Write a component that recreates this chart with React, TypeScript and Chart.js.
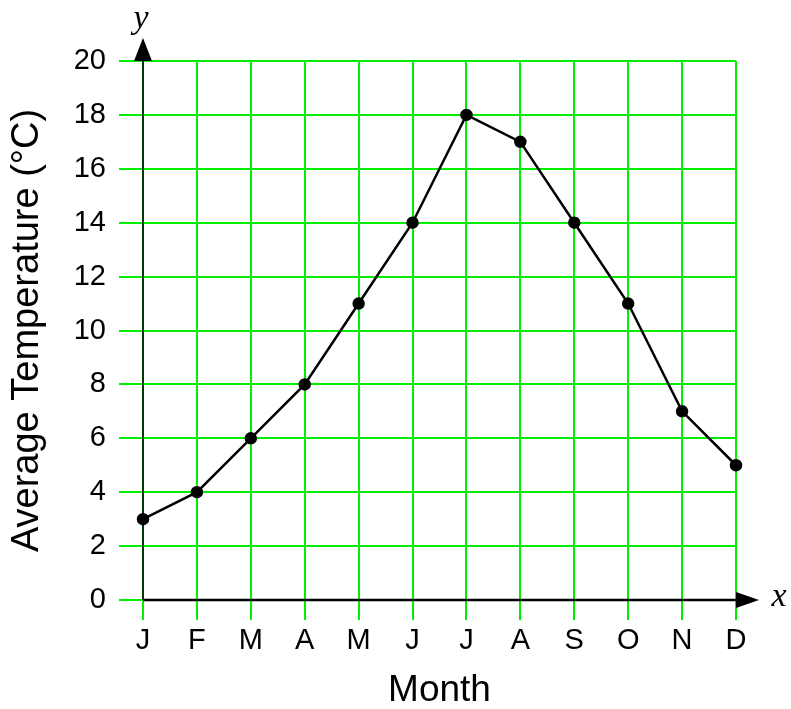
import React, { useEffect, useRef } from "react";
import { Chart, registerables } from "chart.js";

Chart.register(...registerables);

const months = ["J", "F", "M", "A", "M", "J", "J", "A", "S", "O", "N", "D"];
const temps = [3, 4, 6, 8, 11, 14, 18, 17, 14, 11, 7, 5];
const yMin = 0;
const yMax = 20;
const yStep = 2;
const xTitle = "Month";
const yTitle = "Average Temperature (°C)";

const GREEN = "rgb(0,240,0)";
const SANS = "'Liberation Sans', Arial, sans-serif";

const axesPlugin = {
  id: "axesArrows",
  beforeDatasetsDraw(chart: any) {
    const { ctx, chartArea } = chart;
    const { left, right, top, bottom } = chartArea;
    ctx.save();
    ctx.strokeStyle = "#000";
    ctx.lineWidth = 1.5;
    ctx.beginPath();
    ctx.moveTo(left, bottom);
    ctx.lineTo(left, top);
    ctx.stroke();
    ctx.lineWidth = 2.5;
    ctx.beginPath();
    ctx.moveTo(left, bottom);
    ctx.lineTo(right, bottom);
    ctx.stroke();
    ctx.restore();
  },
  afterDraw(chart: any) {
    const { ctx, chartArea } = chart;
    const { left, right, top, bottom } = chartArea;
    ctx.save();
    ctx.fillStyle = "#000";
    ctx.beginPath();
    ctx.moveTo(left - 9, top);
    ctx.lineTo(left + 9, top);
    ctx.lineTo(left, top - 23);
    ctx.closePath();
    ctx.fill();
    ctx.beginPath();
    ctx.moveTo(right, bottom - 8);
    ctx.lineTo(right, bottom + 8);
    ctx.lineTo(right + 23, bottom);
    ctx.closePath();
    ctx.fill();
    ctx.font = "italic 34px 'Liberation Serif', 'Times New Roman', serif";
    ctx.textAlign = "center";
    ctx.textBaseline = "alphabetic";
    ctx.fillText("y", left - 2, top - 33);
    ctx.fillText("x", right + 43, bottom + 6);
    ctx.restore();
  },
};

export default function App() {
  const ref = useRef<HTMLCanvasElement | null>(null);
  useEffect(() => {
    if (!ref.current) return;
    const chart = new Chart(ref.current, {
      type: "line",
      data: {
        labels: months,
        datasets: [
          {
            data: temps,
            borderColor: "#000",
            backgroundColor: "#000",
            borderWidth: 2.5,
            pointRadius: 5,
            pointBackgroundColor: "#000",
            pointBorderColor: "#000",
            tension: 0,
            clip: false as any,
          },
        ],
      },
      plugins: [axesPlugin],
      options: {
        animation: false,
        responsive: true,
        maintainAspectRatio: false,
        layout: { padding: { top: 61, right: 55, left: 0, bottom: 0 } },
        plugins: {
          legend: { display: false },
          tooltip: { enabled: false },
          title: { display: false },
        },
        scales: {
          x: {
            type: "category",
            offset: false,
            border: { display: false },
            grid: {
              color: GREEN,
              lineWidth: 2,
              tickLength: 20,
              drawTicks: true,
              offset: false,
            },
            ticks: {
              color: "#000",
              font: { family: SANS, size: 29 },
              padding: 4,
              maxRotation: 0,
              autoSkip: false,
            },
            title: {
              display: true,
              text: xTitle,
              color: "#000",
              font: { family: SANS, size: 37, lineHeight: 1.0 },
              padding: { top: 0, bottom: 0 },
            },
            afterFit(scale: any) {
              scale.height = 109;
            },
          },
          y: {
            min: yMin,
            max: yMax,
            border: { display: false },
            grid: {
              color: GREEN,
              lineWidth: 2,
              tickLength: 24,
              drawTicks: true,
            },
            ticks: {
              stepSize: yStep,
              color: "#000",
              font: { family: SANS, size: 29 },
              padding: 13,
            },
            title: {
              display: true,
              text: yTitle,
              color: "#000",
              font: { family: SANS, size: 38 },
              padding: { top: 5, bottom: 0 },
            },
            afterFit(scale: any) {
              scale.width = 143;
            },
          },
        },
      } as any,
    });
    return () => chart.destroy();
  }, []);
  return (
    <div
      style={{
        position: "absolute",
        left: 0,
        top: 0,
        width: 791,
        height: 709,
        background: "#fff",
      }}
    >
      <canvas ref={ref} />
    </div>
  );
}
